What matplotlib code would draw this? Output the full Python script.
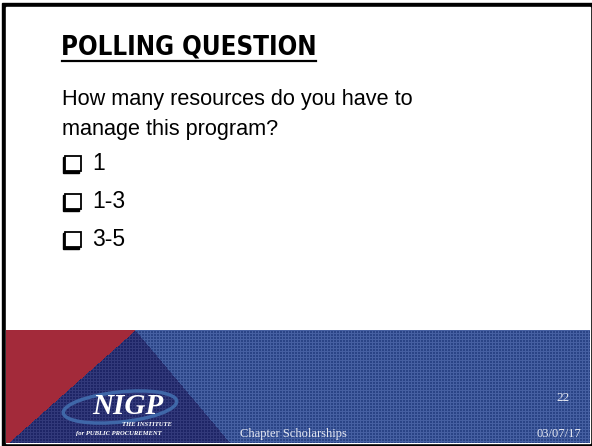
import numpy as np
import matplotlib.pyplot as plt
from matplotlib.patches import Rectangle, Ellipse

# slide content
title = 'POLLING QUESTION'
question = ['How many resources do you have to', 'manage this program?']
options = ['1', '1-3', '3-5']
page_no = '22'
footer = 'Chapter Scholarships'
date = '03/07/17'

W, H = 592, 446
fig = plt.figure(figsize=(W / 100, H / 100), dpi=100)
ax = fig.add_axes([0, 0, 1, 1])
ax.set_xlim(0, W)
ax.set_ylim(H, 0)
ax.axis('off')

# frame
ax.add_patch(Rectangle((2, 3), W - 2, H - 3, color='black', zorder=0))
ax.add_patch(Rectangle((6, 7), 584, 436, color='white', zorder=1))

# footer band built as an image: red / navy triangles + dotted blue
top, bot, left, right = 330, 443, 6, 590
yy, xx = np.mgrid[top:bot, left:right]
img = np.zeros(xx.shape + (3,))
blue = np.array([0x2a, 0x44, 0x86]) / 255
navy = np.array([0x1e, 0x25, 0x66]) / 255
red = np.array([0xa3, 0x2a, 0x3a]) / 255
img[:] = blue
t = (yy - top) / (bot - top)
red_edge = 135 - t * (135 - 8)
navy_edge = 135 + t * (230 - 135)
img[xx < navy_edge] = navy
grid = (xx % 3 == 0) | (yy % 3 == 0)
img[grid & (xx >= navy_edge)] = blue + 0.11
img[grid & (xx < navy_edge)] = navy + 0.08
img[xx < red_edge] = red
img = np.clip(img, 0, 1)
ax.imshow(img, extent=(left, right, bot, top), interpolation='nearest',
          aspect='auto', zorder=2)

# title and body text
ax.text(61, 47, title, fontsize=18.5, fontweight='bold', va='center',
        fontstretch='condensed', family=['DejaVu Sans'], zorder=3)
ax.plot([62, 316], [61, 61], color='black', lw=1.6, zorder=3)
for i, line in enumerate(question):
    ax.text(62, 100 + i * 30, line, fontsize=15.6, va='center',
            family=['Liberation Sans', 'DejaVu Sans'], zorder=3)
for i, opt in enumerate(options):
    y = 164 + i * 38
    ax.add_patch(Rectangle((63, y - 7), 16, 16, color='black', zorder=3))
    ax.add_patch(Rectangle((65, y - 8.5), 15.5, 15.5, facecolor='white',
                           edgecolor='black', lw=1.3, zorder=3))
    ax.text(92, y, opt, fontsize=16.5, va='center',
            family=['Liberation Sans', 'DejaVu Sans'], zorder=3)

# logo
ax.add_patch(Ellipse((120, 407), 114, 30, angle=-6, fill=False,
                     edgecolor='#3f67a8', lw=2.5, zorder=3))
ax.text(128, 406, 'NIGP', fontsize=21, fontweight='bold', style='italic',
        color='white', ha='center', va='center', family='Liberation Serif', zorder=4)
ax.text(147, 424, 'THE INSTITUTE', fontsize=4.8, fontweight='bold', style='italic',
        color='white', ha='center', va='center', family='Liberation Serif', zorder=4)
ax.text(119, 434, 'for PUBLIC PROCUREMENT', fontsize=4.8, fontweight='bold',
        style='italic', color='white', ha='center', va='center',
        family='Liberation Serif', zorder=4)

# footer texts
ax.text(563, 398, page_no, fontsize=9.5, color='#e6e9f2', ha='center', va='center',
        family='Liberation Serif', zorder=4)
ax.text(240, 434, footer, fontsize=9, color='#e6e9f2', va='center',
        family='Liberation Serif', zorder=4)
ax.text(581, 434, date, fontsize=9, color='#e6e9f2', ha='right', va='center',
        family='Liberation Serif', zorder=4)

fig.savefig('out.png', dpi=100)
